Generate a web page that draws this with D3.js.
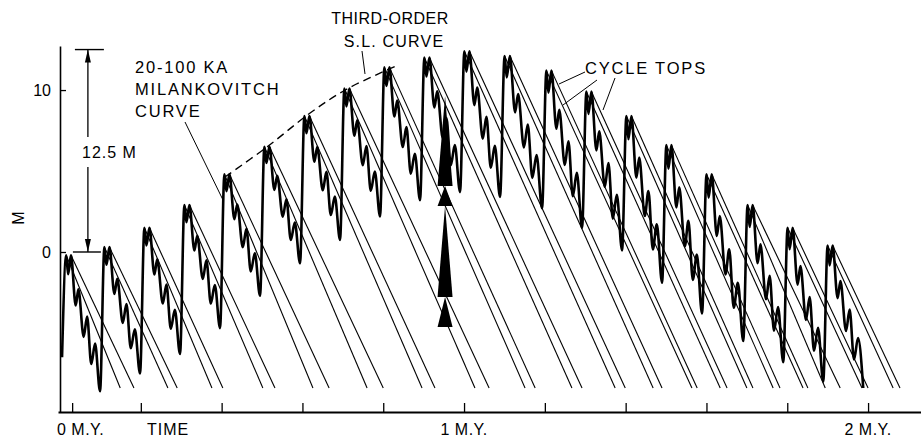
<!DOCTYPE html>
<html>
<head>
<meta charset="utf-8">
<script src="https://cdn.jsdelivr.net/npm/d3@7/dist/d3.min.js"></script>
<style>
  body { margin: 0; background: #fff; }
  svg text { font-family: "Liberation Sans", Arial, sans-serif; fill: #000; }
</style>
</head>
<body>
<svg id="chart" width="921" height="442"></svg>
<script>
// values: time in M.Y., sea level in m

// 100 ka cycles: start time, highest point, low at the end of the cycle
const cycleStart = [0.005, 0.099, 0.198, 0.297, 0.396, 0.495, 0.594, 0.693, 0.792, 0.891,
                    0.990, 1.089, 1.193, 1.292, 1.391, 1.490, 1.589, 1.691, 1.790, 1.889];
const cycleTop = [-0.2, 0.3, 1.5, 2.9, 4.8, 6.5, 8.4, 10.1, 11.4, 12.0,
                  12.4, 12.1, 11.2, 9.9, 8.4, 6.6, 4.8, 2.9, 1.5, 0.4];
const cycleLow = [-8.6, -7.5, -6.3, -4.7, -2.7, -0.7, 0.75, 2.2, 3.2, 3.7,
                  3.4, 2.7, 1.5, 0.1, -1.9, -3.8, -5.5, -6.8, -8.0, -8.4];
const firstLow = -6.5;
const lastEnd = 1.988;

// one cycle as drawn: part of cycle length, part of the fall from top to low (20 ka wiggles)
const shapeTime = [0.11, 0.16, 0.235, 0.36, 0.43, 0.57, 0.66, 0.77, 0.87, 1.0];
const shapeFall = [0, 0.14, 0, 0.37, 0.25, 0.60, 0.45, 0.80, 0.65, 1.0];

// two time lines per cycle, time where they reach the base level
const lineEndA = [0.149, 0.267, 0.376, 0.502, 0.626, 0.760, 0.896, 1.027, 1.151, 1.267,
                  1.374, 1.468, 1.564, 1.634, 1.700, 1.765, 1.839, 1.894, 1.985, 2.062];
const lineEndB = [0.183, 0.290, 0.403, 0.532, 0.666, 0.800, 0.928, 1.062, 1.176, 1.292,
                  1.399, 1.490, 1.577, 1.651, 1.715, 1.782, 1.851, 1.931, 2.000, 2.079];
const lineBase = -8.4;

// third-order sea level curve (dashed)
const thirdOrderT = [0.408, 0.512, 0.619, 0.710, 0.837];
const thirdOrderM = [4.63, 6.48, 8.58, 10.06, 11.54];

// black triangles
const triT = 0.953;
const triTip = [9.63, 4.07, 2.84, -2.78];
const triBase = [4.07, 2.84, -2.78, -4.63];

// 12.5 m arrow
const arrowT = 0.069;
const arrowRange = [0, 12.5];
const arrowGap = [5.25, 7.1];

const xTicks = [0.03, 0.2, 0.4, 0.6, 0.8, 1.0, 1.2, 1.4, 1.6, 1.8, 2.0];
const yTicks = [0, 10];

const svg = d3.select("#chart");
svg.append("rect").attr("width", 921).attr("height", 442).attr("fill", "#fff");

const x = d3.scaleLinear().domain([-0.005, 2.131]).range([58, 921]);
const y = d3.scaleLinear().domain([-9.88, 12.72]).range([412, 46]);

// axes
svg.append("g")
  .attr("transform", "translate(0,412)")
  .call(d3.axisBottom(x).tickValues(xTicks).tickSizeInner(-9).tickSizeOuter(0).tickFormat(""))
  .call(g => g.select(".domain").attr("stroke-width", 1.8))
  .call(g => g.selectAll(".tick line").attr("stroke-width", 1.3));

svg.append("g")
  .attr("transform", "translate(60,0)")
  .call(d3.axisLeft(y).tickValues(yTicks).tickSizeInner(-6).tickSizeOuter(0).tickPadding(9))
  .call(g => g.select(".domain").attr("stroke-width", 1.6))
  .call(g => g.selectAll(".tick line").attr("stroke-width", 1.3))
  .call(g => g.selectAll(".tick text")
    .style("font-size", "16px").style("font-family", "Liberation Sans, Arial, sans-serif"));

svg.append("text")
  .attr("transform", "translate(18,218) rotate(-90)")
  .attr("text-anchor", "middle").attr("dominant-baseline", "central")
  .style("font-size", "16px")
  .text("M");

// build the milankovitch curve points
const curvePts = [[cycleStart[0], firstLow]];
cycleStart.forEach((s, i) => {
  const len = (i + 1 < cycleStart.length ? cycleStart[i + 1] : lastEnd) - s;
  shapeTime.forEach((f, j) => {
    curvePts.push([s + f * len, cycleTop[i] - shapeFall[j] * (cycleTop[i] - cycleLow[i])]);
  });
});

// time lines from the cycle tops
const tLines = [];
cycleStart.forEach((s, i) => {
  const len = (i + 1 < cycleStart.length ? cycleStart[i + 1] : lastEnd) - s;
  tLines.push([[s + shapeTime[0] * len, cycleTop[i]], [lineEndA[i], lineBase]]);
  tLines.push([[s + shapeTime[2] * len, cycleTop[i]], [lineEndB[i], lineBase]]);
});

const straight = d3.line().x(d => x(d[0])).y(d => y(d[1]));

svg.append("g").selectAll("path")
  .data(tLines)
  .enter().append("path")
  .attr("d", straight)
  .attr("fill", "none")
  .attr("stroke", "#000")
  .attr("stroke-width", 1.1);

// triangles
svg.append("g").selectAll("polygon")
  .data(triTip.map((t, i) => [t, triBase[i]]))
  .enter().append("polygon")
  .attr("points", d => [[x(triT) - 7.5, y(d[1])], [x(triT) + 7.5, y(d[1])], [x(triT), y(d[0])]].join(" "))
  .attr("fill", "#000");

// curve
const smooth = d3.line().x(d => x(d[0])).y(d => y(d[1])).curve(d3.curveMonotoneX);
svg.append("path")
  .datum(curvePts)
  .attr("d", smooth)
  .attr("fill", "none")
  .attr("stroke", "#000")
  .attr("stroke-width", 2.6)
  .attr("stroke-linejoin", "round");

// third order dashed curve
svg.append("path")
  .datum(thirdOrderT.map((t, i) => [t, thirdOrderM[i]]))
  .attr("d", d3.line().x(d => x(d[0])).y(d => y(d[1])).curve(d3.curveCatmullRom))
  .attr("fill", "none")
  .attr("stroke", "#000")
  .attr("stroke-width", 1.4)
  .attr("stroke-dasharray", "8,5");

// 12.5 M arrow
const ax = x(arrowT);
svg.append("line").attr("x1", ax).attr("x2", ax)
  .attr("y1", y(arrowRange[1])).attr("y2", y(arrowGap[1])).attr("stroke", "#000").attr("stroke-width", 1.3);
svg.append("line").attr("x1", ax).attr("x2", ax)
  .attr("y1", y(arrowGap[0])).attr("y2", y(arrowRange[0])).attr("stroke", "#000").attr("stroke-width", 1.3);
svg.append("line").attr("x1", ax - 13).attr("x2", ax + 16)
  .attr("y1", y(arrowRange[1])).attr("y2", y(arrowRange[1])).attr("stroke", "#000").attr("stroke-width", 1.4);
svg.append("line").attr("x1", ax - 15).attr("x2", ax + 13)
  .attr("y1", y(arrowRange[0])).attr("y2", y(arrowRange[0])).attr("stroke", "#000").attr("stroke-width", 1.4);
svg.append("polygon")
  .attr("points", [[ax, y(arrowRange[1])], [ax - 3, y(arrowRange[1]) + 13], [ax + 3, y(arrowRange[1]) + 13]].join(" "))
  .attr("fill", "#000");
svg.append("polygon")
  .attr("points", [[ax, y(arrowRange[0])], [ax - 3, y(arrowRange[0]) - 13], [ax + 3, y(arrowRange[0]) - 13]].join(" "))
  .attr("fill", "#000");

// labels
function label(txt, px, py, anchor, spacing, size) {
  svg.append("text")
    .attr("x", px).attr("y", py)
    .attr("text-anchor", anchor || "start")
    .style("font-size", (size || 16.5) + "px")
    .style("letter-spacing", (spacing == null ? 1.8 : spacing) + "px")
    .text(txt);
}
label("12.5 M", 82, 158, "start", 1, 16);
label("20-100 KA", 135, 73);
label("MILANKOVITCH", 135, 95);
label("CURVE", 135, 117);
label("THIRD-ORDER", 390, 24, "middle", 0.5, 16);
label("S.L. CURVE", 394, 47, "middle", 1.2, 16);
label("CYCLE TOPS", 585, 74);
label("0 M.Y.", 57, 435, "start", 0.5, 16);
label("TIME", 147, 435, "start", 1, 16);
label("1 M.Y.", x(1), 435, "middle", 0.5, 16);
label("2 M.Y.", x(2), 435, "middle", 0.5, 16);

// leader lines
const leaders = [
  [185, 122, 223, 200],
  [362, 51, 365, 74],
  [585, 72, 559, 84],
  [597, 80, 563, 105],
  [615, 78, 603, 110]
];
svg.append("g").selectAll("line")
  .data(leaders)
  .enter().append("line")
  .attr("x1", d => d[0]).attr("y1", d => d[1])
  .attr("x2", d => d[2]).attr("y2", d => d[3])
  .attr("stroke", "#000").attr("stroke-width", 1);
</script>
</body>
</html>
